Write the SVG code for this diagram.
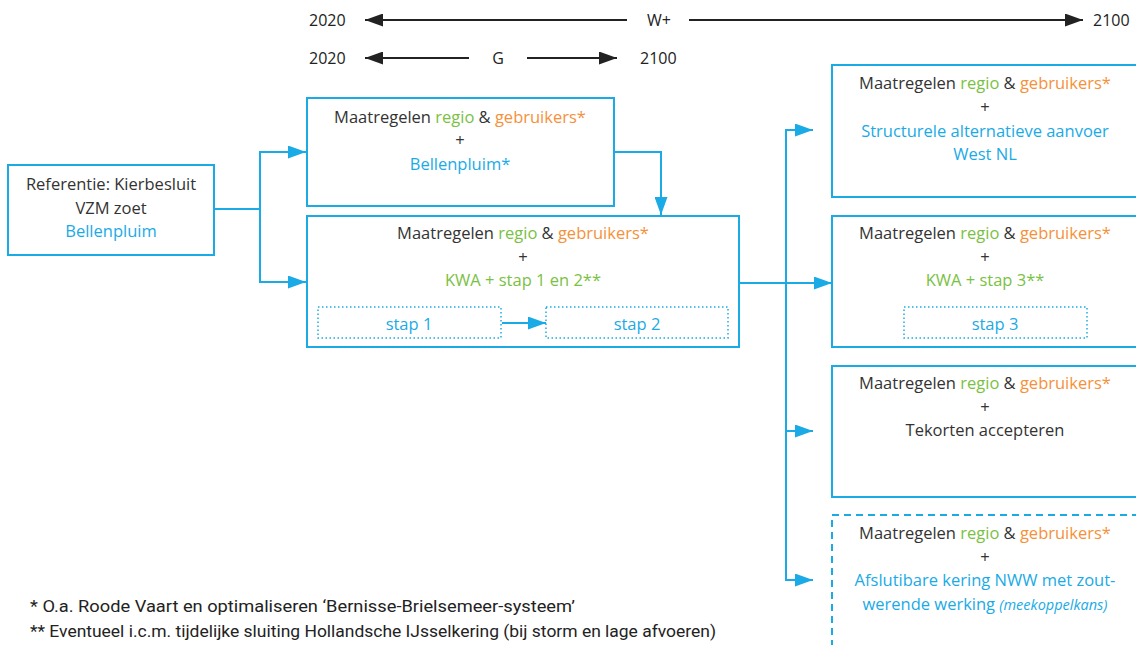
<svg xmlns="http://www.w3.org/2000/svg" width="1136" height="645" viewBox="0 0 1136 645">
<style>
.box{fill:#fff;stroke:#1AAAE6;stroke-width:2}
.dot{fill:none;stroke:#1AAAE6;stroke-width:1.5;stroke-dasharray:1.5 2.5}
.dash{fill:#fff;stroke:#1AAAE6;stroke-width:2;stroke-dasharray:7 5}
.conn{fill:none;stroke:#1AAAE6;stroke-width:2}
.tl{fill:none;stroke:#222;stroke-width:2}
text{font-family:"Open Sans","Noto Sans",sans-serif;font-size:16.5px;fill:#333}
.c{text-anchor:middle}
.b{fill:#1AAAE6}
.g{fill:#7AC143}
.o{fill:#F5913A}
.tt{font-size:16px;fill:#222}
.fn{font-family:Roboto,"Open Sans",sans-serif;font-size:16px;fill:#222}
.it{font-style:italic;font-size:14.5px}
</style>
<defs>
<marker id="ab" markerUnits="userSpaceOnUse" markerWidth="18" markerHeight="13" refX="18" refY="6.5" orient="auto-start-reverse"><path d="M0,0 L18,6.5 L0,13 z" fill="#1AAAE6"/></marker>
<marker id="ak" markerUnits="userSpaceOnUse" markerWidth="18" markerHeight="13" refX="18" refY="6.5" orient="auto-start-reverse"><path d="M0,0 L18,6.5 L0,13 z" fill="#222"/></marker>
</defs>

<g id="timeline">
<text class="tt" x="309" y="26">2020</text>
<line class="tl" x1="365" y1="20" x2="627" y2="20" marker-start="url(#ak)"/>
<text class="tt c" x="659" y="26">W+</text>
<line class="tl" x1="689" y1="20" x2="1083" y2="20" marker-end="url(#ak)"/>
<text class="tt" x="1093" y="26">2100</text>
<text class="tt" x="309" y="64">2020</text>
<line class="tl" x1="365" y1="58" x2="469" y2="58" marker-start="url(#ak)"/>
<text class="tt c" x="498" y="64">G</text>
<line class="tl" x1="527" y1="58" x2="617" y2="58" marker-end="url(#ak)"/>
<text class="tt" x="640" y="64">2100</text>
</g>

<g id="ref">
<rect class="box" x="8" y="165" width="206" height="90"/>
<text class="c" x="111" y="190">Referentie: Kierbesluit</text>
<text class="c" x="111" y="214">VZM zoet</text>
<text class="c b" x="111" y="237">Bellenpluim</text>
</g>

<g id="m1">
<rect class="box" x="307" y="98" width="307" height="108"/>
<text class="c" x="460" y="123">Maatregelen <tspan class="g">regio</tspan> &amp; <tspan class="o">gebruikers*</tspan></text>
<text class="c" x="460" y="146">+</text>
<text class="c b" x="460" y="170">Bellenpluim*</text>
</g>

<g id="m2">
<rect class="box" x="307" y="216" width="432" height="131"/>
<text class="c" x="523" y="239">Maatregelen <tspan class="g">regio</tspan> &amp; <tspan class="o">gebruikers*</tspan></text>
<text class="c" x="523" y="263">+</text>
<text class="c g" x="523" y="286">KWA + stap 1 en 2**</text>
<rect class="dot" x="318" y="307" width="183" height="31"/>
<text class="c b" x="409" y="330">stap 1</text>
<rect class="dot" x="546" y="307" width="182" height="31"/>
<text class="c b" x="637" y="330">stap 2</text>
</g>

<g id="r1">
<rect class="box" x="832" y="65" width="320" height="132"/>
<text class="c" x="985" y="89">Maatregelen <tspan class="g">regio</tspan> &amp; <tspan class="o">gebruikers*</tspan></text>
<text class="c" x="985" y="113">+</text>
<text class="c b" x="985" y="137">Structurele alternatieve aanvoer</text>
<text class="c b" x="985" y="160">West NL</text>
</g>

<g id="r2">
<rect class="box" x="832" y="216" width="320" height="131"/>
<text class="c" x="985" y="239">Maatregelen <tspan class="g">regio</tspan> &amp; <tspan class="o">gebruikers*</tspan></text>
<text class="c" x="985" y="263">+</text>
<text class="c g" x="985" y="286">KWA + stap 3**</text>
<rect class="dot" x="904" y="307" width="183" height="31"/>
<text class="c b" x="995" y="330">stap 3</text>
</g>

<g id="r3">
<rect class="box" x="832" y="366" width="320" height="131"/>
<text class="c" x="985" y="389">Maatregelen <tspan class="g">regio</tspan> &amp; <tspan class="o">gebruikers*</tspan></text>
<text class="c" x="985" y="413">+</text>
<text class="c" x="985" y="436">Tekorten accepteren</text>
</g>

<g id="r4">
<rect class="dash" x="832" y="515" width="320" height="160"/>
<text class="c" x="985" y="539">Maatregelen <tspan class="g">regio</tspan> &amp; <tspan class="o">gebruikers*</tspan></text>
<text class="c" x="985" y="563">+</text>
<text class="c b" x="985" y="586">Afslutibare kering NWW met zout-</text>
<text class="c b" x="985" y="610">werende werking <tspan class="it">(meekoppelkans)</tspan></text>
</g>

<g id="connectors">
<polyline class="conn" points="214,209 260,209"/>
<polyline class="conn" points="306,152 260,152 260,282 306,282" marker-start="url(#ab)" marker-end="url(#ab)"/>
<polyline class="conn" points="615,152 661,152 661,215" marker-end="url(#ab)"/>
<line class="conn" x1="502" y1="323" x2="546" y2="323" marker-end="url(#ab)"/>
<line class="conn" x1="740" y1="283" x2="832" y2="283" marker-end="url(#ab)"/>
<polyline class="conn" points="813,130 786,130 786,580 813,580" marker-start="url(#ab)" marker-end="url(#ab)"/>
<line class="conn" x1="786" y1="431" x2="813" y2="431" marker-end="url(#ab)"/>
</g>

<g id="footnotes">
<text class="fn" x="30" y="612" textLength="545" lengthAdjust="spacingAndGlyphs">* O.a. Roode Vaart en optimaliseren ‘Bernisse-Brielsemeer-systeem’</text>
<text class="fn" x="30" y="637" textLength="686" lengthAdjust="spacingAndGlyphs">** Eventueel i.c.m. tijdelijke sluiting Hollandsche IJsselkering (bij storm en lage afvoeren)</text>
</g>
</svg>
